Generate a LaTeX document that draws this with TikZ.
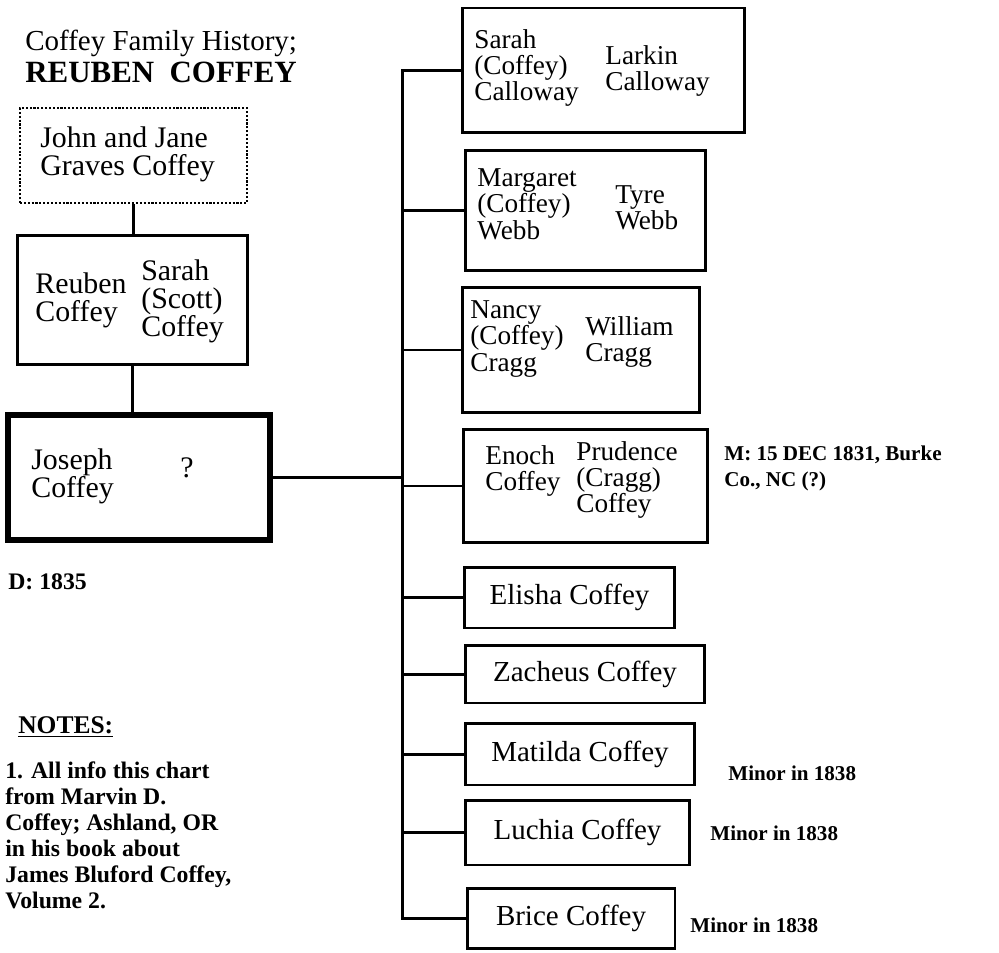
\documentclass[tikz,border=0pt]{standalone}
\usepackage{fontspec}
\setmainfont{Liberation Serif}
\usetikzlibrary{positioning}
\tikzset{
  famtext/.style={anchor=west, inner sep=0pt, align=left,
    font=\fontsize{17}{16}\selectfont},
  kidtext/.style={anchor=west, inner sep=0pt, align=left,
    font=\fontsize{15.5}{15}\selectfont},
  notetext/.style={anchor=west, inner sep=0pt, align=left,
    font=\bfseries\fontsize{12}{14.8}\selectfont},
  pbox/.style={draw, line width=1.7pt, inner sep=0pt,
    font=\fontsize{16.5}{15}\selectfont},
  link/.style={line width=1.7pt},
}

\begin{document}
\begin{tikzpicture}[x=0.02cm, y=-0.02cm]
  \useasboundingbox (0,0) rectangle (999,952);

  % Title
  \node[anchor=west, inner sep=0pt, align=left,
        font=\fontsize{16.5}{18.2}\selectfont] (title) at (25,56)
    {Coffey Family History;\\{\fontsize{17.6}{18.2}\selectfont\bfseries REUBEN\ \ COFFEY}};

  % Ancestors
  \node[pbox, line width=1.2pt, densely dotted,
        minimum width=4.54cm, minimum height=1.9cm] (john) at (133.5,155.5) {};
  \node[famtext] (johntxt) at (40,154) {John and Jane\\Graves Coffey};

  \node[pbox, minimum width=4.62cm, minimum height=2.6cm] (reuben) at (132.5,300) {};
  \node[famtext] (reubentxt) at (35,300) {Reuben\\Coffey};
  \node[famtext] (sarahscott) at (141,301) {Sarah\\(Scott)\\Coffey};

  \node[pbox, line width=3.2pt, minimum width=5.24cm, minimum height=2.5cm] (joseph) at (139,477.5) {};
  \node[famtext] (josephtxt) at (31,476) {Joseph\\Coffey};
  \node[famtext] (unknown) at (180,468) {?};
  \node[notetext, font=\bfseries\fontsize{13.5}{15}\selectfont] (death) at (8,582) {D: 1835};

  % Children of Joseph
  \node[pbox, minimum width=5.66cm, minimum height=2.5cm] (sarah) at (603.5,70.5) {};
  \node[kidtext] (sarahtxt) at (474,68) {Sarah\\(Coffey)\\Calloway};
  \node[kidtext] (larkin) at (605,71) {Larkin\\Calloway};

  \node[pbox, minimum width=4.82cm, minimum height=2.42cm] (margaret) at (585.5,210.5) {};
  \node[kidtext] (margarettxt) at (477,204) {Margaret\\(Coffey)\\Webb};
  \node[kidtext] (tyre) at (615,208) {Tyre\\Webb};

  \node[pbox, minimum width=4.76cm, minimum height=2.52cm] (nancy) at (581,350) {};
  \node[kidtext] (nancytxt) at (470,339) {Nancy\\(Coffey)\\Cragg};
  \node[kidtext] (william) at (585,342) {William\\Cragg};

  \node[pbox, minimum width=4.9cm, minimum height=2.28cm] (enoch) at (585.5,486) {};
  \node[kidtext] (enochtxt) at (485,471) {Enoch\\Coffey};
  \node[kidtext] (prudence) at (576,480) {Prudence\\(Cragg)\\Coffey};
  \node[notetext] (married) at (724,468) {M: 15 DEC 1831, Burke\\Co., NC (?)};

  \node[pbox, minimum width=4.22cm, minimum height=1.22cm] (elisha) at (569.5,597.5) {Elisha Coffey};
  \node[pbox, minimum width=4.8cm, minimum height=1.16cm] (zacheus) at (585,674) {Zacheus Coffey};
  \node[pbox, minimum width=4.6cm, minimum height=1.24cm] (matilda) at (580,754) {Matilda Coffey};
  \node[pbox, minimum width=4.5cm, minimum height=1.3cm] (luchia) at (577.5,832.5) {Luchia Coffey};
  \node[pbox, minimum width=4.16cm, minimum height=1.2cm] (brice) at (571,918) {Brice Coffey};

  \node[notetext] (minor1) at (728,773) {Minor in 1838};
  \node[notetext] (minor2) at (710,833) {Minor in 1838};
  \node[notetext] (minor3) at (690,925) {Minor in 1838};

  % Notes
  \node[anchor=west, inner sep=0pt, font=\bfseries\fontsize{14.5}{16}\selectfont]
    (notes) at (18,727) {\underline{NOTES:}};
  \node[notetext, font=\bfseries\fontsize{13.5}{14.8}\selectfont] (notestxt) at (5,835)
    {1. All info this chart\\from Marvin D.\\Coffey; Ashland, OR\\in his book about\\James Bluford Coffey,\\Volume 2.};

  % Connectors
  \coordinate (trunk) at (402,0);
  \draw[link] (john.south) -- (john.south |- reuben.north);
  \draw[link] (reuben.south) -- (reuben.south |- joseph.north);
  \draw[link] (joseph.east) -- (joseph.east -| trunk);
  \draw[link] (sarah.west) -- (sarah.west -| trunk) -- (brice.west -| trunk) -- (brice.west);
  \foreach \kid in {margaret,nancy,enoch,elisha,zacheus,matilda,luchia}
    \draw[link] (\kid.west -| trunk) -- (\kid.west);
\end{tikzpicture}
\end{document}
